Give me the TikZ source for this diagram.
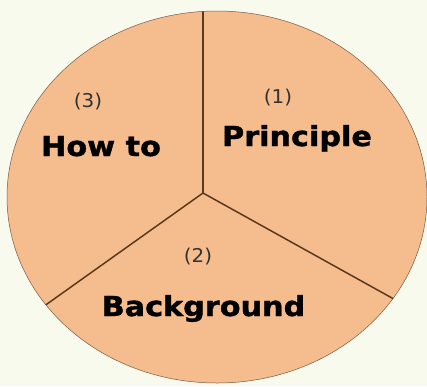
\documentclass[tikz,border=0pt]{standalone}
\usepackage{fontspec}
\usepackage{graphicx}
\setmainfont{DejaVu Sans}
\newfontfamily\boldf[FakeBold=1.2]{DejaVu Sans Bold}
\definecolor{bgc}{HTML}{F8FAEE}
\definecolor{peach}{HTML}{F5BC8D}
\definecolor{divc}{HTML}{5A3A1F}
\definecolor{rimc}{HTML}{7A5A44}
\tikzset{
  title/.style={inner sep=0pt, anchor=base, font=\boldf\fontsize{27.5}{32}\selectfont, text=black},
  numlbl/.style={inner sep=0pt, anchor=center, font=\fontsize{19}{22}\selectfont, text=black!80},
}
\tikzset{divider/.style={draw=divc, line width=1.5pt}}
\newcommand{\wideT}[1]{\scalebox{1.1}[1]{#1}}
\newcommand{\wideN}[1]{\scalebox{1.05}[1]{#1}}
\begin{document}
\begin{tikzpicture}[x=1pt,y=-1pt]
\fill[bgc] (0,0) rectangle (427,386);
\useasboundingbox (0,0) rectangle (427,386);
\filldraw[fill=peach, draw=rimc, line width=0.5pt] (217,197) ellipse [x radius=210, y radius=186];
\coordinate (c) at (203,193);
\coordinate (top) at (203,8);
\coordinate (bl) at (40,309);
\coordinate (br) at (401,303);
\begin{scope}
\clip (217,197) ellipse [x radius=210, y radius=186];
\draw[divider] (c) -- (top);
\draw[divider] (c) -- (bl);
\draw[divider] (c) -- (br);
\end{scope}
\node[numlbl] (n1) at (278,98) {\wideN{(1)}};
\node[numlbl] (n3) at (88,102) {\wideN{(3)}};
\node[numlbl] (n2) at (198,257) {\wideN{(2)}};
\node[title] (t1) at (297,146) {\wideT{Principle}};
\node[title] (t3) at (101,156) {\wideT{How to}};
\node[title] (t2) at (203.5,316) {\wideT{Background}};
\end{tikzpicture}
\end{document}
